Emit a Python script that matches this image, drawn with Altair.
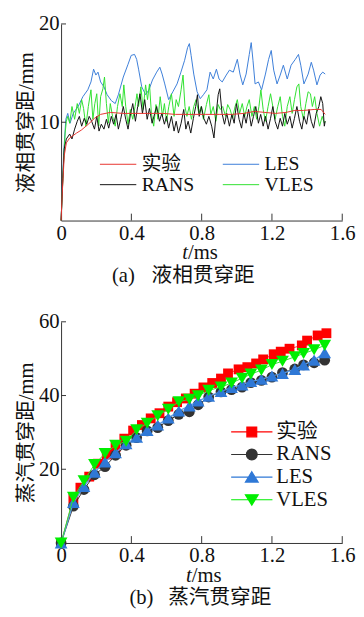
import altair as alt
import pandas as pd

FONT = "'Liberation Serif', 'Noto Sans CJK SC', serif"

# ---------------- panel (a): liquid penetration ----------------
series_a = ["实验", "RANS", "LES", "VLES"]
colors_a = ["#e8332e", "#111111", "#3b7dd8", "#2fe02f"]

exp_a_t = [0, 0.007, 0.018, 0.03, 0.049, 0.088, 0.115, 0.155, 0.19, 0.225, 0.28, 0.35, 0.42, 0.5,
           0.58, 0.65, 0.7, 0.76, 0.82, 0.9, 0.97, 1.04, 1.1, 1.16, 1.22, 1.28, 1.33, 1.38, 1.44, 1.48, 1.503]
exp_a_v = [0, 2.9, 6.6, 7.9, 8.4, 8.9, 9.2, 9.8, 10.4, 10.8, 11.0, 10.9, 10.9, 10.9,
           10.9, 10.8, 10.8, 10.8, 10.8, 10.8, 10.8, 10.9, 11.1, 11.0, 10.9, 11.0, 11.2, 11.2, 11.3, 11.3, 10.8]

les_a_t = [0, 0.014, 0.027, 0.038, 0.051, 0.069, 0.097, 0.124, 0.152, 0.17, 0.185, 0.198, 0.21, 0.225,
           0.244, 0.262, 0.286, 0.308, 0.326, 0.354, 0.381, 0.399, 0.418, 0.43, 0.441, 0.459, 0.481, 0.5,
           0.52, 0.544, 0.562, 0.575, 0.59, 0.612, 0.636, 0.66, 0.682, 0.703, 0.72, 0.73, 0.74, 0.755,
           0.774, 0.792, 0.81, 0.83, 0.848, 0.866, 0.884, 0.899, 0.917, 0.94, 0.958, 0.98, 1.003, 1.018,
           1.034, 1.053, 1.071, 1.082, 1.092, 1.104, 1.123, 1.141, 1.163, 1.181, 1.196, 1.21, 1.229,
           1.247, 1.265, 1.287, 1.309, 1.333, 1.351, 1.364, 1.382, 1.406, 1.424, 1.437, 1.456, 1.474,
           1.489, 1.503]
les_a_v = [0, 6.6, 10.3, 10.9, 9.9, 10.9, 11.6, 12.6, 13.3, 14.1, 15.4, 14.8, 15.1, 14.1,
           13.6, 12.8, 12.2, 11.9, 12.8, 14.6, 15.9, 16.8, 16.9, 16.4, 15.4, 13.6, 12.8, 13.3,
           14.3, 15.1, 15.6, 14.9, 13.9, 12.3, 13.1, 13.9, 15.1, 16.3, 17.6, 18.0, 16.8, 14.9,
           13.1, 12.4, 12.8, 13.3, 15.1, 14.4, 15.4, 14.4, 14.1, 14.8, 15.3, 15.1, 16.4, 14.9,
           13.8, 14.9, 16.9, 18.1, 16.3, 13.9, 14.1, 13.3, 14.9, 16.4, 17.3, 15.3, 13.9,
           14.8, 15.8, 14.4, 15.8, 16.4, 16.9, 15.8, 13.9, 14.9, 16.1, 15.3, 13.8, 14.8,
           15.1, 14.9]

rans_a_t = [0, 0.01, 0.018, 0.03, 0.049, 0.062, 0.077, 0.092, 0.104, 0.117, 0.132, 0.146, 0.16, 0.174,
            0.19, 0.203, 0.216, 0.229, 0.244, 0.258, 0.271, 0.286, 0.299, 0.313, 0.326, 0.339, 0.354,
            0.368, 0.381, 0.396, 0.408, 0.423, 0.436, 0.449, 0.463, 0.476, 0.49, 0.503, 0.518, 0.533,
            0.544, 0.56, 0.573, 0.588, 0.6, 0.612, 0.628, 0.643, 0.655, 0.668, 0.683, 0.698, 0.71,
            0.723, 0.738, 0.753, 0.766, 0.776, 0.786, 0.799, 0.812, 0.827, 0.841, 0.857, 0.87, 0.881,
            0.894, 0.903, 0.916, 0.93, 0.943, 0.958, 0.972, 0.985, 0.998, 1.013, 1.027, 1.04, 1.053,
            1.067, 1.082, 1.095, 1.108, 1.123, 1.136, 1.15, 1.163, 1.178, 1.192, 1.205, 1.218, 1.233,
            1.247, 1.26, 1.273, 1.287, 1.302, 1.315, 1.328, 1.342, 1.357, 1.37, 1.382, 1.397, 1.411,
            1.424, 1.437, 1.452, 1.467, 1.478, 1.489, 1.498, 1.503]
rans_a_v = [0, 4.3, 7.3, 8.3, 8.8, 8.3, 9.3, 10.1, 10.6, 9.6, 10.4, 9.8, 10.6, 10.1,
            9.3, 10.6, 9.1, 9.8, 9.3, 10.3, 9.4, 10.6, 9.8, 10.8, 9.3, 10.3, 11.6,
            10.3, 9.3, 10.9, 11.9, 10.1, 11.6, 12.9, 10.9, 12.3, 10.3, 11.4, 9.9, 10.9,
            11.6, 10.1, 10.9, 9.8, 10.6, 9.4, 10.6, 9.1, 10.1, 8.9, 9.9, 11.3, 9.3,
            10.1, 8.9, 10.4, 11.6, 12.8, 10.6, 11.6, 10.4, 9.8, 10.6, 9.6, 8.4, 10.6,
            12.8, 13.4, 10.9, 9.8, 10.9, 9.6, 10.8, 9.9, 11.9, 10.3, 9.4, 10.9, 9.9,
            11.3, 9.6, 10.6, 11.6, 9.9, 10.8, 9.6, 10.6, 9.3, 10.4, 11.6, 10.1, 9.3,
            10.4, 9.6, 10.9, 9.8, 10.6, 9.4, 10.4, 11.6, 10.1, 9.3, 10.6, 9.8, 11.3,
            10.1, 9.4, 10.9, 11.6, 12.6, 11.9, 9.6, 10.1]

vles_a_t = [0, 0.014, 0.023, 0.03, 0.038, 0.049, 0.062, 0.077, 0.092, 0.104, 0.117, 0.128, 0.141, 0.155,
            0.17, 0.181, 0.192, 0.203, 0.214, 0.225, 0.238, 0.247, 0.258, 0.269, 0.28, 0.293, 0.308,
            0.321, 0.335, 0.348, 0.357, 0.368, 0.381, 0.394, 0.408, 0.421, 0.432, 0.441, 0.454, 0.467,
            0.481, 0.492, 0.503, 0.514, 0.527, 0.54, 0.551, 0.564, 0.577, 0.588, 0.6, 0.613, 0.628,
            0.643, 0.655, 0.668, 0.683, 0.694, 0.705, 0.716, 0.729, 0.742, 0.755, 0.768, 0.784, 0.797,
            0.81, 0.827, 0.841, 0.852, 0.866, 0.881, 0.894, 0.906, 0.92, 0.936, 0.948, 0.962, 0.976,
            0.99, 1.003, 1.016, 1.031, 1.045, 1.058, 1.071, 1.086, 1.1, 1.113, 1.126, 1.137, 1.15,
            1.163, 1.178, 1.192, 1.205, 1.218, 1.233, 1.247, 1.26, 1.273, 1.287, 1.302, 1.315, 1.328,
            1.342, 1.353, 1.364, 1.379, 1.393, 1.406, 1.419, 1.43, 1.443, 1.456, 1.471, 1.486, 1.498,
            1.503]
vles_a_v = [0, 5.9, 8.9, 10.1, 10.6, 9.9, 11.6, 10.3, 11.9, 10.9, 12.3, 11.4, 9.6, 11.6,
            13.3, 10.3, 11.9, 12.9, 9.6, 12.6, 13.4, 14.6, 11.9, 9.9, 11.9, 10.6, 9.6,
            11.6, 12.9, 11.6, 13.8, 11.6, 9.8, 11.3, 10.3, 11.6, 12.9, 11.6, 13.6, 11.3,
            13.8, 12.3, 13.9, 10.9, 9.6, 11.8, 10.3, 12.6, 10.6, 11.9, 10.1, 11.6, 12.9,
            10.6, 12.3, 11.6, 13.3, 14.8, 11.6, 10.6, 11.6, 10.3, 11.6, 12.3, 10.9, 11.6,
            10.3, 11.8, 12.8, 10.8, 11.6, 10.1, 11.8, 11.3, 11.6, 10.6, 11.8, 11.3, 10.4,
            11.6, 12.3, 10.9, 11.9, 10.6, 11.6, 12.3, 10.6, 11.6, 10.3, 11.6, 13.3, 11.3,
            10.1, 11.6, 12.9, 11.6, 10.3, 11.6, 12.6, 10.6, 9.6, 11.6, 12.6, 10.9, 12.3,
            13.6, 13.9, 11.6, 10.3, 11.9, 13.1, 12.9, 11.6, 12.6, 10.9, 9.6, 10.6, 9.9,
            10.1]

xticks = [0, 0.4, 0.8, 1.2, 1.6]
xticks_inner = [0.4, 0.8, 1.2, 1.6]
yticks_a = [10, 20]

# ---------------- panel (b): vapour penetration ----------------
series_b = ["实验", "RANS", "LES", "VLES"]
colors_b = ["#ff0000", "#333333", "#2f78d6", "#00ee00"]
line_colors_b = ["#ff3030", "#333333", "#5a9be6", "#33e033"]

exp_b_t = [0.0, 0.07, 0.11, 0.16, 0.21, 0.26, 0.31, 0.36, 0.41, 0.46, 0.51, 0.56, 0.61, 0.66, 0.71,
           0.76, 0.81, 0.86, 0.91, 0.95, 1.01, 1.06, 1.11, 1.15, 1.21, 1.25, 1.30, 1.37, 1.40, 1.46, 1.51]
exp_b_v = [0, 12.0, 15.0, 18.0, 21.5, 24.0, 26.0, 28.3, 30.5, 32.0, 33.8, 35.2, 37.0, 38.2, 39.2,
           40.5, 42.2, 43.4, 44.6, 46.0, 47.1, 47.7, 48.7, 49.8, 51.2, 51.9, 52.7, 53.6, 54.9, 56.3, 56.9]

model_b_t = [0.0, 0.07, 0.13, 0.19, 0.25, 0.31, 0.37, 0.43, 0.49, 0.55, 0.61, 0.67, 0.73, 0.78, 0.84,
             0.91, 0.97, 1.03, 1.08, 1.14, 1.20, 1.26, 1.33, 1.38, 1.44, 1.50]
rans_b_v = [0, 10.0, 14.5, 18.5, 20.7, 23.8, 26.5, 28.6, 30.4, 31.3, 33.2, 34.9, 35.6, 37.5, 39.6,
            41.0, 41.6, 42.3, 43.5, 44.1, 45.0, 46.2, 47.2, 48.3, 48.9, 49.6]
les_b_v = [0, 11.0, 15.3, 19.2, 22.0, 24.5, 26.9, 28.7, 30.5, 32.0, 33.9, 35.8, 37.2, 38.5, 39.8,
           41.1, 42.2, 42.9, 43.8, 44.4, 45.3, 46.0, 47.1, 48.3, 49.6, 51.6]
vles_b_v = [0, 12.4, 16.9, 21.3, 24.3, 26.5, 27.6, 30.7, 32.5, 34.5, 36.3, 38.3, 39.0, 39.9, 41.4,
            42.3, 43.4, 44.7, 45.8, 46.9, 48.4, 49.3, 50.5, 51.4, 52.4, 53.6]
yticks_b = [20, 40, 60]

shapes_b = ["square", "circle", "triangle-up", "triangle-down"]
sizes_b = [100, 121, 169, 169]
legend_paths_b = [
    "M-1,0H3.2M0.6,-0.5H1.6V0.5H0.6Z",
    "M-1,0H3.2M0.55,0A0.55,0.55,0,1,0,1.65,0A0.55,0.55,0,1,0,0.55,0Z",
    "M-1,0H3.2M1.1,-0.55L1.75,0.5L0.45,0.5Z",
    "M-1,0H3.2M1.1,0.55L1.75,-0.5L0.45,-0.5Z",
]
legend_line_a = "M-1,0H2.7"


def frame(t, v, name):
    n = min(len(t), len(v))
    return pd.DataFrame({"t": t[:n], "v": v[:n], "s": [name] * n})


W = 286


def xaxis():
    return alt.Axis(values=xticks, title=None, format="~g", labelBaseline="middle",
                    labelPadding=13, labelFlush=False)


def yaxis(vals, title):
    return alt.Axis(values=vals, title=title, labelPadding=2)


# ----- top panel -----
HA = 200
x_a = alt.X("t:Q", scale=alt.Scale(domain=[0, 1.6], nice=False), axis=xaxis())
y_a = alt.Y("v:Q", scale=alt.Scale(domain=[0, 20], nice=False), axis=yaxis(yticks_a, "液相贯穿距/mm"))
leg_a = alt.Legend(title=None, orient="none", legendX=39, legendY=132, columns=2,
                   symbolType=legend_line_a, symbolSize=400, symbolStrokeWidth=1,
                   labelFontSize=20, labelFont=FONT, labelColor="#111", labelOffset=22,
                   columnPadding=26, rowPadding=-1, padding=0)
color_a = alt.Color("s:N", scale=alt.Scale(domain=series_a, range=colors_a), legend=leg_a)

dfs_a = [
    frame(les_a_t, les_a_v, "LES"),
    frame(vles_a_t, vles_a_v, "VLES"),
    frame(rans_a_t, rans_a_v, "RANS"),
    frame(exp_a_t, exp_a_v, "实验"),
]
layers_a = [alt.Chart(df).mark_line(strokeWidth=1).encode(x=x_a, y=y_a, color=color_a)
            for df in dfs_a]
xt_a = alt.Chart(pd.DataFrame({"t": xticks_inner})).mark_rule(color="#333").encode(
    x=x_a, y=alt.value(HA), y2=alt.value(HA - 7))
yt_a = alt.Chart(pd.DataFrame({"v": yticks_a})).mark_rule(color="#333").encode(
    y=y_a, x=alt.value(0), x2=alt.value(5))


def txt(label, x, y, align, italic=False):
    kw = dict(font=FONT, fontSize=21, align=align, baseline="middle", color="#111")
    if italic:
        kw["fontStyle"] = "italic"
    return alt.Chart(pd.DataFrame({"label": [label]})).mark_text(**kw).encode(
        text="label:N", x=alt.value(x), y=alt.value(y))


texts_a = [
    txt("t", 129, HA + 33, "right", True),
    txt("/ms", 129, HA + 33, "left"),
    txt("(a)", 75, HA + 56, "right"),
    txt("液相贯穿距", 92, HA + 56, "left"),
]
top = alt.layer(*layers_a, xt_a, yt_a, *texts_a).properties(width=W, height=HA)

# ----- bottom panel -----
HB = 225
x_b = alt.X("t:Q", scale=alt.Scale(domain=[0, 1.6], nice=False), axis=xaxis())
y_b = alt.Y("v:Q", scale=alt.Scale(domain=[0, 60], nice=False), axis=yaxis(yticks_b, "蒸汽贯穿距/mm"))
leg_b = alt.Legend(title=None, orient="none", legendX=172, legendY=101, symbolSize=400,
                   symbolOpacity=1, symbolStrokeWidth=1.2,
                   labelFontSize=21, labelFont=FONT, labelColor="#111", labelOffset=25,
                   rowPadding=2, padding=0)

vals_b = [
    (exp_b_t, exp_b_v),
    (model_b_t, rans_b_v),
    (model_b_t, les_b_v),
    (model_b_t, vles_b_v),
]
frames_b = [frame(t, v, name) for (t, v), name in zip(vals_b, series_b)]
layers_b = []
for i, df in enumerate(frames_b):
    layers_b.append(alt.Chart(df).mark_line(
        strokeWidth=1.3 if series_b[i] == "LES" else 1, color=line_colors_b[i]).encode(x=x_b, y=y_b))
    layers_b.append(alt.Chart(df).mark_point(
        filled=True, opacity=1, size=sizes_b[i], shape=shapes_b[i], color=colors_b[i]).encode(x=x_b, y=y_b))

# invisible layer that only provides the legend (line + marker symbols)
legend_layer_b = alt.Chart(pd.concat(frames_b)).mark_point(filled=True, strokeWidth=1.2).encode(
    x=x_b, y=y_b,
    fill=alt.Fill("s:N", scale=alt.Scale(domain=series_b, range=colors_b), legend=leg_b),
    stroke=alt.Stroke("s:N", scale=alt.Scale(domain=series_b, range=colors_b), legend=leg_b),
    shape=alt.Shape("s:N", scale=alt.Scale(domain=series_b, range=legend_paths_b), legend=leg_b),
    opacity=alt.value(0),
)
xt_b = alt.Chart(pd.DataFrame({"t": xticks_inner})).mark_rule(color="#333").encode(
    x=x_b, y=alt.value(HB), y2=alt.value(HB - 7))
yt_b = alt.Chart(pd.DataFrame({"v": yticks_b})).mark_rule(color="#333").encode(
    y=y_b, x=alt.value(0), x2=alt.value(5))
texts_b = [
    txt("t", 133, HB + 34, "right", True),
    txt("/ms", 133, HB + 34, "left"),
    txt("(b)", 94, HB + 56, "right"),
    txt("蒸汽贯穿距", 109, HB + 56, "left"),
]
bottom = alt.layer(legend_layer_b, *layers_b, xt_b, yt_b, *texts_b).properties(width=W, height=HB)

chart = alt.vconcat(top, bottom, spacing=26).resolve_scale(
    x="independent", y="independent", color="independent",
    fill="independent", stroke="independent", shape="independent"
).resolve_legend(
    color="independent", fill="independent", stroke="independent", shape="independent"
).properties(
    padding={"left": 8, "top": 0, "right": 0, "bottom": 0}
).configure(font=FONT).configure_axis(
    labelFont=FONT, titleFont=FONT, labelFontSize=21, titleFontSize=21,
    titleFontWeight="normal", labelColor="#111", titleColor="#111",
    domainColor="#333", domainWidth=1, ticks=False, tickSize=0, grid=False,
    labelPadding=4, titlePadding=2,
).configure_view(stroke=None)

chart.save("out.html", embed_options={"renderer": "svg", "actions": False})
